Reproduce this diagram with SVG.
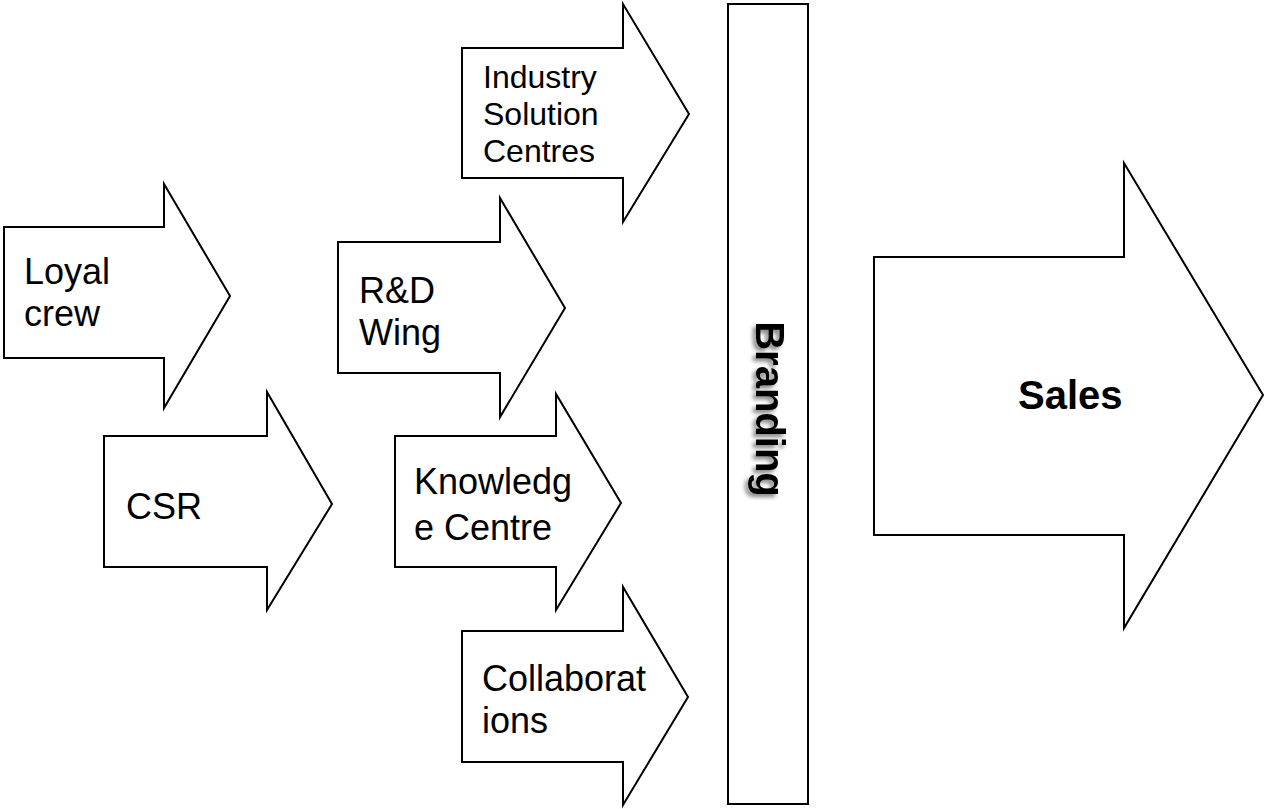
<svg xmlns="http://www.w3.org/2000/svg" width="1265" height="809" viewBox="0 0 1265 809">
  <style>
    .shape { fill: #ffffff; stroke: #000000; stroke-width: 2; stroke-linejoin: miter; }
    .lbl { font-family: "Liberation Sans", Arial, sans-serif; font-size: 36px; fill: #000000; }
    .sm { font-size: 32px; }
    .bold { font-family: "Liberation Sans", Arial, sans-serif; font-weight: bold; font-size: 40px; fill: #000000; }
  </style>
  <defs>
    <filter id="shadow" x="-20%" y="-20%" width="140%" height="140%">
      <feGaussianBlur in="SourceAlpha" stdDeviation="2"/>
      <feOffset dx="-3" dy="3" result="b"/>
      <feComponentTransfer><feFuncA type="linear" slope="0.5"/></feComponentTransfer>
      <feMerge><feMergeNode/><feMergeNode in="SourceGraphic"/></feMerge>
    </filter>
  </defs>
  <rect width="1265" height="809" fill="#ffffff"/>

  <g id="loyal-crew">
    <polygon class="shape" points="4,227 164,227 164,184 230,296 164,408 164,358 4,358"/>
    <text class="lbl" x="24" y="284">Loyal</text>
    <text class="lbl" x="24" y="326">crew</text>
  </g>

  <g id="csr">
    <polygon class="shape" points="104,436 267,436 267,392 332,504 267,610 267,567 104,567"/>
    <text class="lbl" x="126" y="519">CSR</text>
  </g>

  <g id="rd-wing">
    <polygon class="shape" points="338,242 500,242 500,198 565,308 500,417 500,373 338,373"/>
    <text class="lbl" x="359" y="303">R&amp;D</text>
    <text class="lbl" x="359" y="345">Wing</text>
  </g>

  <g id="knowledge-centre">
    <polygon class="shape" points="395,436 556,436 556,394 621,503 556,610 556,567 395,567"/>
    <text class="lbl" x="414" y="494">Knowledg</text>
    <text class="lbl" x="414" y="540">e Centre</text>
  </g>

  <g id="industry-solution-centres">
    <polygon class="shape" points="462,48 623,48 623,4 689,114 623,222 623,178 462,178"/>
    <text class="lbl sm" x="483" y="88">Industry</text>
    <text class="lbl sm" x="483" y="125">Solution</text>
    <text class="lbl sm" x="483" y="162">Centres</text>
  </g>

  <g id="collaborations">
    <polygon class="shape" points="462,631 623,631 623,587 688,697 623,805 623,762 462,762"/>
    <text class="lbl" x="482" y="691">Collaborat</text>
    <text class="lbl" x="482" y="733">ions</text>
  </g>

  <g id="branding">
    <rect class="shape" x="728" y="4" width="80" height="800"/>
    <g filter="url(#shadow)">
      <text class="bold" text-anchor="middle" transform="translate(756,409) rotate(90)">Branding</text>
    </g>
  </g>

  <g id="sales">
    <polygon class="shape" points="874,257 1124,257 1124,163 1263,395 1124,628 1124,535 874,535"/>
    <text class="bold" x="1018" y="409">Sales</text>
  </g>

  <g id="connectors"></g>
</svg>
